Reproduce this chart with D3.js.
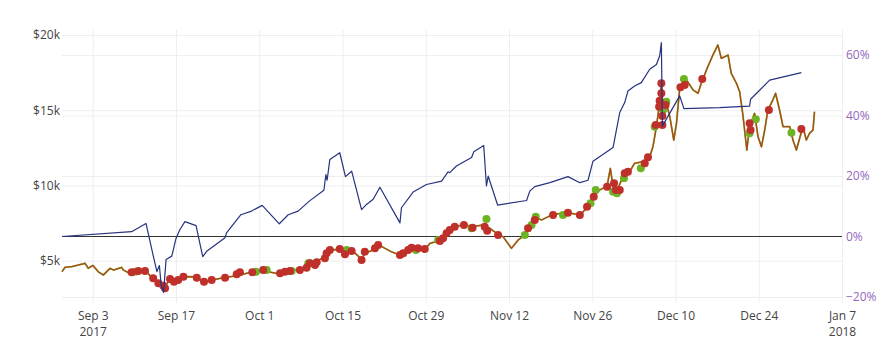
<!DOCTYPE html>
<html><head><meta charset="utf-8">
<script src="https://cdn.jsdelivr.net/npm/d3@7"></script>
<style>body{margin:0;background:#fff}svg{font-family:"Open Sans",sans-serif}</style>
</head><body><svg id="c" width="895" height="361"></svg>
<script>
const xRange = ["2017-08-28T20", "2018-01-07T00"];
const priceRange = [2189, 20332];
const pctRange = [-22.0, 68.3];
const priceTicks = [5000, 10000, 15000, 20000];
const pctTicks = [-20, 0, 20, 40, 60];
const xTicks = ["2017-09-03","2017-09-17","2017-10-01","2017-10-15","2017-10-29","2017-11-12","2017-11-26","2017-12-10","2017-12-24","2018-01-07"];

const price = [
["2017-08-28T20",4270],["2017-08-29T08",4560],["2017-08-30T12",4610],["2017-08-31T12",4700],
["2017-09-01T17",4830],["2017-09-02T06",4495],["2017-09-02T18",4620],["2017-09-03T01",4680],
["2017-09-03T22",4270],["2017-09-04T19",4050],["2017-09-05T22",4495],["2017-09-06T11",4380],
["2017-09-07T21",4560],["2017-09-08T03",4380],["2017-09-09T06",4160],["2017-09-10T19",4295],
["2017-09-11T23",4295],["2017-09-13T04",3785],["2017-09-14T01",3500],["2017-09-14T21",3165],
["2017-09-15T08",3385],["2017-09-16T00",3765],["2017-09-16T20",3500],["2017-09-18T08",3935],
["2017-09-20T09",3935],["2017-09-21T14",3605],["2017-09-23T00",3715],["2017-09-25T06",3895],
["2017-09-27T05",3985],["2017-09-30T00",4270],["2017-10-01T14",4335],["2017-10-04T12",4115],
["2017-10-05T21",4335],["2017-10-07T20",4430],["2017-10-09T10",4715],["2017-10-12T01",5265],
["2017-10-13T04",5710],["2017-10-14T13",5760],["2017-10-15T10",5490],["2017-10-16T13",5710],
["2017-10-18T05",5095],["2017-10-18T18",5490],["2017-10-20T04",5710],["2017-10-21T03",6045],
["2017-10-22T03",5825],["2017-10-23T07",5580],["2017-10-24T16",5380],["2017-10-26T08",5760],
["2017-10-27T11",5825],["2017-10-28T20",5760],["2017-10-29T17",6155],["2017-10-31T16",6375],
["2017-11-01T18",6925],["2017-11-02T21",7260],["2017-11-04T14",7375],["2017-11-05T23",7260],
["2017-11-07T16",7375],["2017-11-08T18",7155],["2017-11-09T22",6820],["2017-11-11T00",6595],
["2017-11-12T10",5825],["2017-11-13T13",6375],["2017-11-14T16",6710],["2017-11-15T05",7260],
["2017-11-15T19",7375],["2017-11-16T08",7925],["2017-11-17T11",7705],["2017-11-19T10",8085],
["2017-11-21T22",8190],["2017-11-23T22",8035],["2017-11-25T07",8590],["2017-11-26T06",9300],
["2017-11-27T06",9700],["2017-11-28T12",9965],["2017-11-29T01",11140],["2017-11-29T12",9920],
["2017-11-30T02",9585],["2017-12-01T04",10585],["2017-12-02T07",10915],["2017-12-03T03",11475],
["2017-12-04T13",11580],["2017-12-05T16",11910],["2017-12-06T05",12575],["2017-12-06T19",13905],
["2017-12-07T06",15235],["2017-12-07T15",16790],["2017-12-07T22",15015],["2017-12-08T11",15460],
["2017-12-09T01",14570],["2017-12-09T17",13020],["2017-12-10T04",14130],["2017-12-10T17",16455],
["2017-12-11T20",17010],["2017-12-12T09",16700],["2017-12-12T23",16345],["2017-12-13T19",16125],
["2017-12-14T08",16790],["2017-12-15T05",17675],["2017-12-16T07",18670],["2017-12-17T03",19335],
["2017-12-17T17",18450],["2017-12-18T20",18670],["2017-12-19T09",17455],["2017-12-20T06",16790],
["2017-12-20T19",16230],["2017-12-21T08",14685],["2017-12-22T00",12355],["2017-12-22T11",13905],
["2017-12-23T07",14795],["2017-12-23T21",13240],["2017-12-24T11",12575],["2017-12-25T00",13685],
["2017-12-25T13",15015],["2017-12-26T09",15680],["2017-12-26T20",16125],["2017-12-27T12",15015],
["2017-12-28T02",13905],["2017-12-29T05",13905],["2017-12-29T18",13020],["2017-12-30T08",12355],
["2017-12-31T10",13905],["2018-01-01T00",13020],["2018-01-01T13",13465],["2018-01-02T03",13685],
["2018-01-02T09",14900]
];

const strategy = [
["2017-08-28T20",0],["2017-09-09T13",1.6],["2017-09-11T23",4.3],["2017-09-13T02",-5.6],
["2017-09-13T19",-11.6],["2017-09-14T05",-9.6],["2017-09-14T12",-15.9],["2017-09-14T22",-18.5],
["2017-09-15T08",-7.6],["2017-09-16T07",-6.5],["2017-09-17T00",-0.7],["2017-09-17T16",2.3],
["2017-09-18T12",4.9],["2017-09-20T09",3.6],["2017-09-21T12",-6.7],["2017-09-22T04",-4.9],
["2017-09-25T06",-0.4],["2017-09-25T12",1.2],["2017-09-27T22",7.2],["2017-09-29T17",8.4],
["2017-10-01T12",10.3],["2017-10-04T09",4.2],["2017-10-05T21",7.2],["2017-10-07T13",8.4],
["2017-10-09T10",11.7],["2017-10-11T21",15.3],["2017-10-12T05",20.5],["2017-10-12T10",18.6],
["2017-10-12T21",25.5],["2017-10-14T13",27.7],["2017-10-15T12",19.8],["2017-10-16T13",21.6],
["2017-10-18T05",8.9],["2017-10-19T01",10.6],["2017-10-20T04",12.3],["2017-10-21T07",16.3],
["2017-10-24T16",4.5],["2017-10-24T22",9.5],["2017-10-26T21",14.7],["2017-10-29T03",17.2],
["2017-10-31T16",18.3],["2017-11-01T18",21.4],["2017-11-02T01",21.1],["2017-11-03T04",23.3],
["2017-11-05T17",26.1],["2017-11-06T02",28.0],["2017-11-07T18",30.1],["2017-11-08T05",16.7],
["2017-11-08T12",20.0],["2017-11-10T02",10.4],["2017-11-14T23",11.9],["2017-11-15T12",15.0],
["2017-11-16T08",16.5],["2017-11-18T21",17.8],["2017-11-21T22",19.8],["2017-11-23T22",17.8],
["2017-11-25T07",18.6],["2017-11-26T03",24.9],["2017-11-29T12",29.4],["2017-11-30T02",35.4],
["2017-11-30T15",41.0],["2017-12-01T11",44.3],["2017-12-02T00",48.1],["2017-12-03T03",49.8],
["2017-12-04T06",50.9],["2017-12-05T16",55.3],["2017-12-06T19",56.9],["2017-12-07T08",59.7],
["2017-12-07T15",64.1],["2017-12-07T19",36.5],["2017-12-10T17",46.5],["2017-12-11T10",42.3],
["2017-12-17T10",42.6],["2017-12-22T11",43.1],["2017-12-22T15",45.4],["2017-12-25T20",51.7],
["2017-12-31T04",54.2]
];

const buys = [
["2017-09-10T03",4270],["2017-09-30T11",4270],["2017-10-02T06",4380],["2017-10-06T11",4315],
["2017-10-09T06",4825],["2017-10-09T12",4825],["2017-10-15T17",5710],["2017-10-27T08",5710],
["2017-10-31T02",6375],["2017-11-05T17",7155],["2017-11-08T05",7770],["2017-11-14T16",6710],
["2017-11-15T19",7375],["2017-11-16T12",7925],["2017-11-21T02",8035],["2017-11-25T17",8815],
["2017-11-26T14",9700],["2017-11-29T12",9585],["2017-11-30T04",9480],["2017-12-01T08",10475],
["2017-12-04T04",11140],["2017-12-06T12",13905],["2017-12-07T08",15235],["2017-12-08T11",15565],
["2017-12-07T22",15015],["2017-12-11T10",17075],["2017-12-22T11",13465],["2017-12-23T12",14400],
["2017-12-29T12",13505]
];

const sells = [
["2017-09-09T13",4230],["2017-09-10T16",4315],["2017-09-11T19",4315],["2017-09-13T04",3830],
["2017-09-14T01",3500],["2017-09-14T21",3340],["2017-09-15T04",3165],["2017-09-16T00",3785],
["2017-09-16T16",3605],["2017-09-17T09",3715],["2017-09-18T06",3935],["2017-09-20T12",3870],
["2017-09-21T17",3605],["2017-09-23T00",3715],["2017-09-25T06",3870],["2017-09-27T05",4095],
["2017-09-27T18",4230],["2017-09-29T20",4230],["2017-10-01T16",4380],["2017-10-04T12",4165],
["2017-10-05T08",4270],["2017-10-06T04",4315],["2017-10-07T20",4380],["2017-10-08T23",4535],
["2017-10-10T16",4895],["2017-10-09T12",4825],["2017-10-10T09",4715],["2017-10-12T01",5160],
["2017-10-12T08",5490],["2017-10-12T21",5710],["2017-10-14T13",5775],["2017-10-15T10",5425],
["2017-10-16T13",5645],["2017-10-18T05",5045],["2017-10-18T18",5600],["2017-10-20T11",5825],
["2017-10-21T00",6045],["2017-10-24T16",5380],["2017-10-25T05",5490],["2017-10-26T01",5710],
["2017-10-26T15",5865],["2017-10-27T17",5825],["2017-10-28T20",5775],["2017-10-31T09",6310],
["2017-10-31T22",6490],["2017-11-01T12",6820],["2017-11-02T01",7040],["2017-11-02T21",7260],
["2017-11-04T10",7375],["2017-11-05T21",7195],["2017-11-07T22",7260],["2017-11-08T08",6995],
["2017-11-10T04",6710],["2017-11-15T05",7155],["2017-11-16T08",7705],["2017-11-19T10",8035],
["2017-11-21T22",8190],["2017-11-23T22",8035],["2017-11-25T03",8590],["2017-11-26T06",9255],
["2017-11-28T12",9920],["2017-11-29T16",10145],["2017-11-29T23",9700],["2017-11-30T15",9700],
["2017-12-01T11",10810],["2017-12-02T00",10915],["2017-12-04T20",11475],["2017-12-05T09",11870],
["2017-12-06T16",14020],["2017-12-07T15",16790],["2017-12-07T15",16125],["2017-12-07T08",15635],
["2017-12-07T06",15235],["2017-12-08T08",15350],["2017-12-07T19",14615],["2017-12-07T19",14020],
["2017-12-10T20",16525],["2017-12-11T13",16680],["2017-12-14T12",17075],["2017-12-22T11",14130],
["2017-12-22T15",13685],["2017-12-25T17",15015],["2017-12-31T04",13755]
];

const parse = d3.timeParse("%Y-%m-%dT%H");
const parseDay = d3.timeParse("%Y-%m-%d");
const W = 895, H = 361;
const m = {l: 62, r: 53, t: 30, b: 58};
const iw = W - m.l - m.r, ih = H - m.t - m.b;

const svg = d3.select("#c");
const x = d3.scaleTime().domain(xRange.map(parse)).range([m.l, m.l + iw]);
const yL = d3.scaleLinear().domain(priceRange).range([m.t + ih, m.t]);
const yR = d3.scaleLinear().domain(pctRange).range([m.t + ih, m.t]);

const grid = "#eeeeee";
svg.append("g").attr("transform", `translate(0,${m.t + ih})`)
  .call(d3.axisBottom(x).tickValues(xTicks.map(parseDay)).tickSize(-ih).tickFormat(""))
  .call(g => { g.select(".domain").remove(); g.selectAll("line").attr("stroke", grid); });
svg.append("g").attr("transform", `translate(${m.l},0)`)
  .call(d3.axisLeft(yL).tickValues(priceTicks).tickSize(-iw).tickFormat(""))
  .call(g => { g.select(".domain").remove(); g.selectAll("line").attr("stroke", grid); });
svg.append("g").attr("transform", `translate(${m.l + iw},0)`)
  .call(d3.axisRight(yR).tickValues(pctTicks.filter(v => v !== 0)).tickSize(-iw).tickFormat(""))
  .call(g => { g.select(".domain").remove(); g.selectAll("line").attr("stroke", grid); });
svg.append("line").attr("x1", m.l).attr("x2", m.l + iw)
  .attr("y1", yR(0)).attr("y2", yR(0)).attr("stroke", "#333").attr("stroke-width", 1);

const fmt = d3.timeFormat("%b %-d");
const xa = svg.append("g").attr("transform", `translate(0,${m.t + ih})`)
  .call(d3.axisBottom(x).tickValues(xTicks.map(parseDay)).tickSize(0).tickPadding(0).tickFormat(""));
xa.select(".domain").remove();
xa.selectAll(".tick").each(function(d, i) {
  const t = d3.select(this).select("text").attr("y", 0).attr("dy", null)
    .attr("fill", "#444").attr("font-size", 12).attr("font-family", '"Open Sans",sans-serif');
  t.append("tspan").attr("x", 0).attr("y", 16.5).text(fmt(d));
  if (i === 0 || d.getMonth() === 0) t.append("tspan").attr("x", 0).attr("y", 33).text(d3.timeFormat("%Y")(d));
});

const la = svg.append("g").attr("transform", `translate(${m.l},0)`)
  .call(d3.axisLeft(yL).tickValues(priceTicks).tickSize(0).tickPadding(2).tickFormat(v => "$" + (v / 1000) + "k"));
la.select(".domain").remove();
la.selectAll("text").attr("fill", "#444").attr("font-size", 12).attr("font-family", '"Open Sans",sans-serif');

const ra = svg.append("g").attr("transform", `translate(${m.l + iw},0)`)
  .call(d3.axisRight(yR).tickValues(pctTicks).tickSize(0).tickPadding(4).tickFormat(v => (v < 0 ? "\u2212" + Math.abs(v) : v) + "%"));
ra.select(".domain").remove();
ra.selectAll("text").attr("fill", "#9467bd").attr("font-size", 12).attr("font-family", '"Open Sans",sans-serif');

const plot = svg.append("g");
const priceLine = d3.line().x(d => x(parse(d[0]))).y(d => yL(d[1]));
plot.append("path").datum(price).attr("d", priceLine).attr("fill", "none")
  .attr("stroke", "#7ab82e").attr("stroke-width", 1.8).attr("stroke-linejoin", "round");
plot.append("path").datum(price).attr("d", priceLine).attr("fill", "none")
  .attr("stroke", "#b0461c").attr("stroke-width", 1.3).attr("stroke-linejoin", "round");

plot.selectAll("circle.buy").data(buys).join("circle").attr("class", "buy")
  .attr("cx", d => x(parse(d[0]))).attr("cy", d => yL(d[1])).attr("r", 4).attr("fill", "#6db424");
plot.selectAll("circle.sell").data(sells).join("circle").attr("class", "sell")
  .attr("cx", d => x(parse(d[0]))).attr("cy", d => yL(d[1])).attr("r", 4).attr("fill", "#c0302b");

const stratLine = d3.line().x(d => x(parse(d[0]))).y(d => yR(d[1]));
plot.append("path").datum(strategy).attr("d", stratLine).attr("fill", "none")
  .attr("stroke", "#26337f").attr("stroke-width", 1.2).attr("stroke-linejoin", "round");
</script></body></html>
